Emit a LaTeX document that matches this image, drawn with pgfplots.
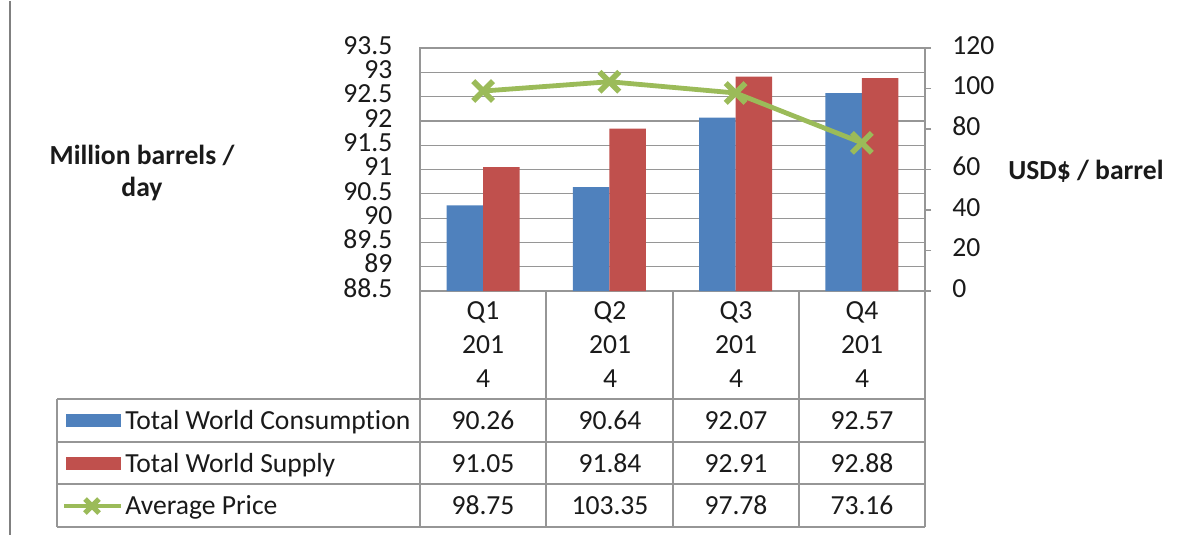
\documentclass[border=0pt]{standalone}
\usepackage{pgfplots}
\pgfplotsset{compat=1.18}
\usepackage{fontspec}
\setmainfont{Carlito}[Ligatures={NoCommon}]

\definecolor{cblue}{HTML}{4F81BD}
\definecolor{cred}{HTML}{C0504D}
\definecolor{cgreen}{HTML}{9BBB59}
\definecolor{cgrid}{HTML}{969696}
\definecolor{cframe}{HTML}{808080}
\definecolor{ctext}{HTML}{1A1A1A}

\begin{document}
\begin{tikzpicture}[font=\fontsize{13.8}{16}\selectfont, text=ctext]
% picture frame in px units (1px = 0.5pt)
\begin{scope}[x=0.5pt,y=-0.5pt]
  \useasboundingbox (0,0) rectangle (1184,534);
\end{scope}

% bars, left axis
\begin{axis}[
    at={(210pt,-145pt)}, anchor=south west,
    scale only axis, width=252.5pt, height=121.5pt,
    xmin=-0.5, xmax=3.5,
    ymin=88.5, ymax=93.5,
    xtick=\empty,
    ytick={88.5,89,89.5,90,90.5,91,91.5,92,92.5,93,93.5},
    yticklabels={88.5,89,89.5,90,90.5,91,91.5,92,92.5,93,93.5},
    yticklabel style={font=\fontsize{13.8}{16}\selectfont, text=ctext, anchor=east,
        inner sep=0pt, text height=1.3ex, text depth=0pt, xshift=-13.6pt},
    ymajorgrids, grid style={cgrid, line width=0.6pt},
    axis line style={cgrid, line width=0.6pt},
    major tick length=0pt,
]
\addplot[ybar, bar width=0.29, bar shift=-0.145, fill=cblue, draw=none]
    coordinates {(0,90.26)(1,90.64)(2,92.07)(3,92.57)};
\addplot[ybar, bar width=0.29, bar shift=0.145, fill=cred, draw=none]
    coordinates {(0,91.05)(1,91.84)(2,92.91)(3,92.88)};
\end{axis}

% price line, right axis
\begin{axis}[
    at={(210pt,-145pt)}, anchor=south west,
    scale only axis, width=252.5pt, height=121.5pt,
    xmin=-0.5, xmax=3.5,
    ymin=0, ymax=120,
    axis x line=none, axis y line*=right,
    ytick={0,20,40,60,80,100,120},
    yticklabels={0,20,40,60,80,100,120},
    yticklabel style={font=\fontsize{13.8}{16}\selectfont, text=ctext, anchor=west,
        inner sep=0pt, text height=1.3ex, text depth=0pt, xshift=10.5pt},
    axis line style={cgrid, line width=0.6pt},
    tick style={cgrid, line width=0.6pt},
    tick align=outside, major tick length=3pt,
    clip=false,
]
\addplot[cgreen, line width=2.4pt, mark=x, mark size=7pt, mark options={line width=2.8pt}]
    coordinates {(0,98.75)(1,103.35)(2,97.78)(3,73.16)};
\end{axis}

\begin{scope}[x=0.5pt,y=-0.5pt]
  % outer frame edge
  \draw[cframe, line width=1pt] (10,0) -- (10,534);
  % data table grid
  \foreach \yy in {398,441,483,526} \draw[cgrid, line width=0.6pt] (57,\yy) -- (925,\yy);
  \draw[cgrid, line width=0.6pt] (57,398) -- (57,526);
  \foreach \xx in {420,546,673,799,925} \draw[cgrid, line width=0.6pt] (\xx,290) -- (\xx,526);
  % category labels
  \foreach \xx/\q in {483/Q1,610/Q2,736/Q3,862/Q4} {
    \node[anchor=base, inner sep=0pt] at (\xx,318) {\q};
    \node[anchor=base, inner sep=0pt] at (\xx,352) {201};
    \node[anchor=base, inner sep=0pt] at (\xx,386) {4};
  }
  % table values
  \foreach \xx/\a/\b/\c in {483/90.26/91.05/98.75, 610/90.64/91.84/103.35,
                             736/92.07/92.91/97.78, 862/92.57/92.88/73.16} {
    \node[anchor=base, inner sep=0pt] at (\xx,428) {\a};
    \node[anchor=base, inner sep=0pt] at (\xx,471) {\b};
    \node[anchor=base, inner sep=0pt] at (\xx,513) {\c};
  }
  % legend keys and names
  \fill[cblue] (66,413) rectangle (121,426);
  \fill[cred] (66,456) rectangle (121,469);
  \draw[cgreen, line width=2.4pt] (64,505) -- (121,505);
  \draw[cgreen, line width=2.6pt] (85,498) -- (99,512) (85,512) -- (99,498);
  \node[anchor=base west, inner sep=0pt] at (125,428) {Total World Consumption};
  \node[anchor=base west, inner sep=0pt] at (125,471) {Total World Supply};
  \node[anchor=base west, inner sep=0pt] at (125,513) {Average Price};
  % axis titles
  \node[anchor=base, inner sep=0pt, font=\fontsize{13.8}{16}\selectfont\bfseries] at (142,163) {Million barrels /};
  \node[anchor=base, inner sep=0pt, font=\fontsize{13.8}{16}\selectfont\bfseries] at (142,195) {day};
  \node[anchor=base west, inner sep=0pt, font=\fontsize{13.8}{16}\selectfont\bfseries] at (1008,178) {USD\$ / barrel};
\end{scope}
\end{tikzpicture}
\end{document}
